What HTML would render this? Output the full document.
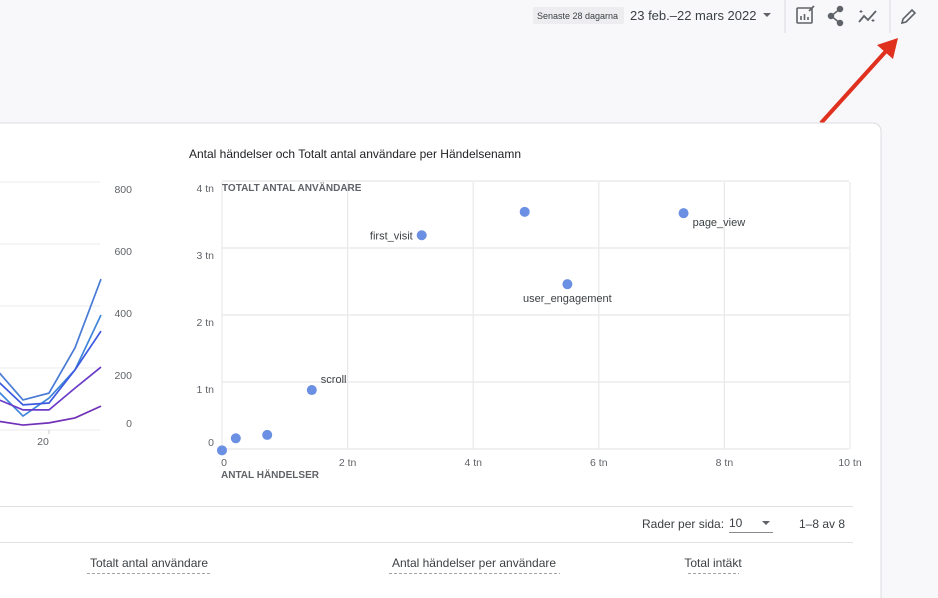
<!DOCTYPE html>
<html><head><meta charset="utf-8"><style>
html,body{margin:0;padding:0;width:938px;height:598px;overflow:hidden;background:#f8f8fa;font-family:"Liberation Sans",Arial,sans-serif}
svg{position:absolute;left:0;top:0}
text{font-family:"Liberation Sans",Arial,sans-serif}
</style></head><body>
<svg width="938" height="598" viewBox="0 0 938 598">
  <rect x="533" y="7" width="91" height="17" fill="#ededef" rx="2"/>
  <text x="537" y="19" font-size="9" fill="#3c4043">Senaste 28 dagarna</text>
  <text x="630" y="20" font-size="13" fill="#3c4043">23 feb.–22 mars 2022</text>
  <path d="M763 13 l4 4 l4 -4z" fill="#5f6368"/>
  <line x1="785" y1="0" x2="785" y2="33" stroke="#dadce0"/>
  <g stroke="#5f6368" fill="none" stroke-width="1.6">
    <rect x="797" y="8" width="15" height="15" rx="1"/><path d="M801 20v-4M804.5 20v-6M808 20v-3"/><path d="M809 11l5-5"/>
  </g>
  <g fill="#5f6368" stroke="#5f6368" stroke-width="1.5">
    <circle cx="840" cy="9" r="2.5"/><circle cx="831" cy="16" r="2.5"/><circle cx="840" cy="23" r="2.5"/><path d="M840 9L831 16L840 23" fill="none"/>
  </g>
  <g stroke="#5f6368" stroke-width="1.8" fill="none">
    <path d="M859 22l5-6 4 4 8-9"/><path d="M861 10v3M859.5 11.5h3M873 19v3M871.5 20.5h3" stroke-width="1"/>
  </g>
  <line x1="890" y1="0" x2="890" y2="33" stroke="#dadce0"/>
  <path d="M902 23l1-4 9-9 3 3-9 9z" fill="none" stroke="#5f6368" stroke-width="1.6"/>
  <g>
    <line x1="821" y1="123" x2="887" y2="50" stroke="#e0301e" stroke-width="4"/>
    <polygon points="898,38 893,59 877,45" fill="#e0301e"/>
  </g>
  <path d="M-5 123 H873 a8 8 0 0 1 8 8 V605 H-5z" fill="#fff" stroke="#dadce0"/>
  <line x1="0" y1="506.5" x2="853" y2="506.5" stroke="#e0e0e0"/>
  <line x1="0" y1="542.5" x2="853" y2="542.5" stroke="#e0e0e0"/>
  <text x="642" y="528" font-size="12" fill="#3c4043">Rader per sida:</text>
  <text x="729" y="527" font-size="12" fill="#3c4043">10</text>
  <line x1="729" y1="532.5" x2="773" y2="532.5" stroke="#5f6368" stroke-width="0.8"/>
  <path d="M762 521 l4 4 l4 -4z" fill="#5f6368"/>
  <text x="799" y="528" font-size="12" fill="#3c4043">1–8 av 8</text>
  <g font-size="12" fill="#3c4043" text-anchor="middle">
    <text x="149" y="567">Totalt antal användare</text>
    <text x="474" y="567">Antal händelser per användare</text>
    <text x="713" y="567">Total intäkt</text>
  </g>
  <g stroke="#80868b" stroke-dasharray="3,2" stroke-width="0.8">
    <line x1="87" y1="573.5" x2="211" y2="573.5"/><line x1="389" y1="573.5" x2="560" y2="573.5"/><line x1="688" y1="573.5" x2="739" y2="573.5"/>
  </g>
  <g id="line-chart"></g>
  <g id="scatter-chart"></g>
  <text x="189" y="158" font-size="12" fill="#202124">Antal händelser och Totalt antal användare per Händelsenamn</text>
</svg>
<script>
// line chart data
const lineDays = [18, 19, 20, 21, 22];
const seriesA = [193, 97, 119, 265, 487];
const seriesB = [129, 45, 103, 194, 371];
const seriesC = [160, 81, 87, 194, 319];
const seriesD = [100, 65, 65, 135, 203];
const seriesE = [29, 16, 23, 39, 77];
const lineYTicks = [0, 200, 400, 600, 800];
const lineXTicks = [20];
// scatter data
const scatterNames = ["", "", "", "scroll", "first_visit", "", "user_engagement", "page_view"];
const scatterEvents = [0.0, 0.22, 0.72, 1.43, 3.18, 4.82, 5.5, 7.35];
const scatterUsers = [-0.02, 0.16, 0.21, 0.88, 3.19, 3.54, 2.46, 3.52];
const scatterXTicks = [0, 2, 4, 6, 8, 10];
const scatterYTicks = [0, 1, 2, 3, 4];

const NS = "http://www.w3.org/2000/svg";
function mk(tag, attrs, parent) { const e = document.createElementNS(NS, tag); for (const k in attrs) e.setAttribute(k, attrs[k]); parent.appendChild(e); return e; }

const lc = document.getElementById('line-chart');
const lx = d => 49 + (d - 20) * 26;
const ly = v => 430 - v * 62 / 200;
lineYTicks.forEach(t => {
  const g = mk('line', {x1: -5, x2: 100, y1: ly(t), y2: ly(t), stroke: '#ebebeb'}, lc);
  
  
  const l = mk('text', {x: 132, y: ly(t) + (t === 0 ? -3 : 11), 'font-size': 10.5, fill: '#5f6368', 'text-anchor': 'end'}, lc);
  l.textContent = t;
  
  
});
lineXTicks.forEach(t => {
  const l = mk('text', {x: lx(t) - 6, y: 445, 'font-size': 10.5, fill: '#5f6368', 'text-anchor': 'middle'}, lc);
  l.textContent = t;
  
  
  const tk = mk('line', {x1: lx(t), x2: lx(t), y1: 430, y2: 434, stroke: '#ccc'}, lc);
  
  
});
[[seriesA, '#4a7bd6', 'series-a'], [seriesB, '#3f86d9', 'series-b'], [seriesC, '#3d5ae0', 'series-c'], [seriesD, '#6a3bc8', 'series-d'], [seriesE, '#7030b8', 'series-e']].forEach(([s, c, n]) => {
  const p = mk('polyline', {points: s.map((v, i) => lx(lineDays[i]) + ',' + ly(v)).join(' '), fill: 'none', stroke: c, 'stroke-width': 1.7}, lc);
  
  
});

const sc = document.getElementById('scatter-chart');
const sx = v => 222 + v * 62.8;
const sy = v => 449 - v * 67;
scatterYTicks.forEach(t => {
  const g = mk('line', {x1: 222, x2: 849, y1: sy(t), y2: sy(t), stroke: '#e8e8ea', 'stroke-width': 1.2}, sc);
  
  
  const l = mk('text', {x: 214, y: sy(t) + (t === 0 ? -3 : 11), 'font-size': 10.5, fill: '#5f6368', 'text-anchor': 'end'}, sc);
  l.textContent = t === 0 ? '0' : t + ' tn';
  
  
});
scatterXTicks.forEach(t => {
  const g = mk('line', {x1: sx(t), x2: sx(t), y1: 182, y2: 449, stroke: '#e8e8ea', 'stroke-width': 1.2}, sc);
  
  
  const l = mk('text', {x: sx(t) + (t === 0 ? 2 : 0), y: 466, 'font-size': 10.5, fill: '#5f6368', 'text-anchor': 'middle'}, sc);
  l.textContent = t === 0 ? '0' : t + ' tn';
  
  
});
const yt = mk('text', {x: 222, y: 191, 'font-size': 10, 'font-weight': 'bold', fill: '#5f6368'}, sc);
yt.textContent = 'TOTALT ANTAL ANVÄNDARE';


const xt = mk('text', {x: 221, y: 478, 'font-size': 10, 'font-weight': 'bold', fill: '#5f6368'}, sc);
xt.textContent = 'ANTAL HÄNDELSER';


scatterEvents.forEach((v, i) => {
  const cx = sx(v), cy = sy(scatterUsers[i]);
  const c = mk('circle', {cx: cx, cy: cy, r: 5, fill: '#6a8fe3'}, sc);
  
  
  const n = scatterNames[i];
  if (n) {
    let x = cx + 9, y = cy - 7, a = 'start';
    if (n === 'first_visit') { x = cx - 9; y = cy + 4; a = 'end'; }
    if (n === 'user_engagement') { x = cx; y = cy + 18; a = 'middle'; }
    if (n === 'page_view') { x = cx + 9; y = cy + 13; }
    const t = mk('text', {x: x, y: y, 'font-size': 11, fill: '#3c4043', 'text-anchor': a}, sc);
    t.textContent = n;
    
    
  }
});
</script>
</body></html>
